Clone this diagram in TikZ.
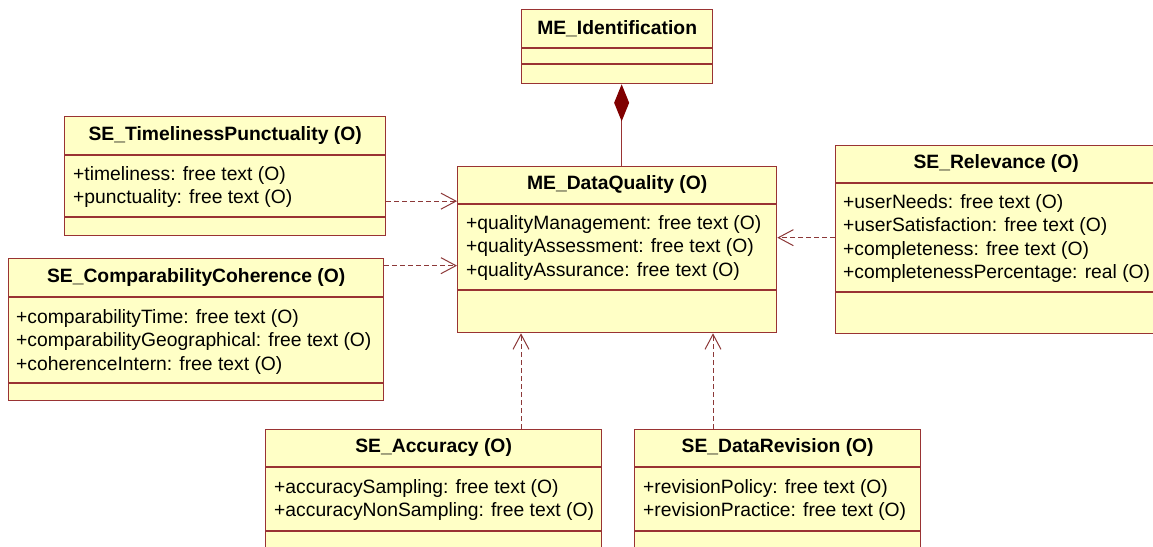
\documentclass[tikz,border=0pt]{standalone}
\usepackage{fontspec}
\setmainfont{Liberation Sans}
\usepackage{tikz}
\usetikzlibrary{arrows.meta}
\definecolor{umlborder}{RGB}{153,51,51}
\definecolor{umlfill}{RGB}{255,255,198}
\definecolor{umlline}{RGB}{140,56,56}
\definecolor{umldiamond}{RGB}{128,0,0}
\tikzset{
  classbox/.style={draw=umlborder, fill=umlfill, line width=1.3pt, inner sep=0pt, anchor=north west},
  classline/.style={draw=umlborder, line width=1.3pt},
  classname/.style={inner sep=0pt, font=\fontsize{19.3}{23.5}\selectfont\bfseries},
  classattr/.style={inner sep=0pt, anchor=north west, align=left, font=\fontsize{19.3}{23.5}\selectfont},
  depend/.style={draw=umlline, line width=1pt, dash pattern=on 5pt off 3pt, -{Straight Barb[length=15pt, width=16pt, line width=1pt]}},
  compose/.style={draw=umlborder, line width=1.3pt, -{Diamond[length=37pt, width=15pt, color=umldiamond, fill=umldiamond]}}
}

\begin{document}
\begin{tikzpicture}[x=1pt, y=-1pt]
    \useasboundingbox (0,0) rectangle (1153,546);
    \clip (0,0) rectangle (1153,546);

    \node[classbox, minimum width=191pt, minimum height=74pt] (ident) at (521,9) {};
    \draw[classline] ([yshift=-39pt]ident.north west) -- ([yshift=-39pt]ident.north east);
    \draw[classline] ([yshift=-55pt]ident.north west) -- ([yshift=-55pt]ident.north east);
    \node[classname] (ident-name) at ([yshift=-19.5pt]ident.north) {ME\_Identification};

    \node[classbox, minimum width=319pt, minimum height=166pt] (quality) at (457,166) {};
    \draw[classline] ([yshift=-38pt]quality.north west) -- ([yshift=-38pt]quality.north east);
    \draw[classline] ([yshift=-124pt]quality.north west) -- ([yshift=-124pt]quality.north east);
    \node[classname] (quality-name) at ([yshift=-19pt]quality.north) {ME\_DataQuality (O)};
    \node[classattr] (quality-attr) at ([xshift=9pt, yshift=-49pt]quality.north west)
        {+qualityManagement: free text (O)\\+qualityAssessment: free text (O)\\+qualityAssurance: free text (O)};

    \node[classbox, minimum width=321pt, minimum height=119pt] (timely) at (64,116) {};
    \draw[classline] ([yshift=-39pt]timely.north west) -- ([yshift=-39pt]timely.north east);
    \draw[classline] ([yshift=-101pt]timely.north west) -- ([yshift=-101pt]timely.north east);
    \node[classname] (timely-name) at ([yshift=-19.5pt]timely.north) {SE\_TimelinessPunctuality (O)};
    \node[classattr] (timely-attr) at ([xshift=9pt, yshift=-50pt]timely.north west)
        {+timeliness: free text (O)\\+punctuality: free text (O)};

    \node[classbox, minimum width=375pt, minimum height=142pt] (compar) at (8,258) {};
    \draw[classline] ([yshift=-39pt]compar.north west) -- ([yshift=-39pt]compar.north east);
    \draw[classline] ([yshift=-125pt]compar.north west) -- ([yshift=-125pt]compar.north east);
    \node[classname] (compar-name) at ([yshift=-19.5pt]compar.north) {SE\_ComparabilityCoherence (O)};
    \node[classattr] (compar-attr) at ([xshift=8pt, yshift=-51pt]compar.north west)
        {+comparabilityTime: free text (O)\\+comparabilityGeographical: free text (O)\\+coherenceIntern: free text (O)};

    \node[classbox, minimum width=321pt, minimum height=188pt] (relev) at (835,145) {};
    \draw[classline] ([yshift=-38pt]relev.north west) -- ([yshift=-38pt]relev.north east);
    \draw[classline] ([yshift=-147pt]relev.north west) -- ([yshift=-147pt]relev.north east);
    \node[classname] (relev-name) at ([yshift=-19pt]relev.north) {SE\_Relevance (O)};
    \node[classattr] (relev-attr) at ([xshift=8pt, yshift=-49pt]relev.north west)
        {+userNeeds: free text (O)\\+userSatisfaction: free text (O)\\+completeness: free text (O)\\+completenessPercentage: real (O)};

    \node[classbox, minimum width=336pt, minimum height=131pt] (accur) at (265,429) {};
    \draw[classline] ([yshift=-38pt]accur.north west) -- ([yshift=-38pt]accur.north east);
    \draw[classline] ([yshift=-102pt]accur.north west) -- ([yshift=-102pt]accur.north east);
    \node[classname] (accur-name) at ([yshift=-19pt]accur.north) {SE\_Accuracy (O)};
    \node[classattr] (accur-attr) at ([xshift=9pt, yshift=-50pt]accur.north west)
        {+accuracySampling: free text (O)\\+accuracyNonSampling: free text (O)};

    \node[classbox, minimum width=286pt, minimum height=131pt] (revis) at (634,429) {};
    \draw[classline] ([yshift=-38pt]revis.north west) -- ([yshift=-38pt]revis.north east);
    \draw[classline] ([yshift=-102pt]revis.north west) -- ([yshift=-102pt]revis.north east);
    \node[classname] (revis-name) at ([yshift=-19pt]revis.north) {SE\_DataRevision (O)};
    \node[classattr] (revis-attr) at ([xshift=9pt, yshift=-50pt]revis.north west)
        {+revisionPolicy: free text (O)\\+revisionPractice: free text (O)};

    \coordinate (quality-top) at ([xshift=4.5pt]quality.north);
    \coordinate (timely-out) at ([yshift=-25pt]timely.east);
    \coordinate (compar-out) at ([yshift=64pt]compar.east);
    \coordinate (relev-out) at ([yshift=2pt]relev.west);
    \coordinate (accur-out) at ([xshift=256pt]accur.north west);
    \coordinate (revis-out) at ([xshift=79pt]revis.north west);

    \draw[compose] (quality-top) -- (quality-top |- ident.south);
    \draw[depend] (timely-out) -- (timely-out -| quality.west);
    \draw[depend] (compar-out) -- (compar-out -| quality.west);
    \draw[depend] (relev-out) -- (relev-out -| quality.east);
    \draw[depend] (accur-out) -- (accur-out |- quality.south);
    \draw[depend] (revis-out) -- (revis-out |- quality.south);
\end{tikzpicture}
\end{document}
